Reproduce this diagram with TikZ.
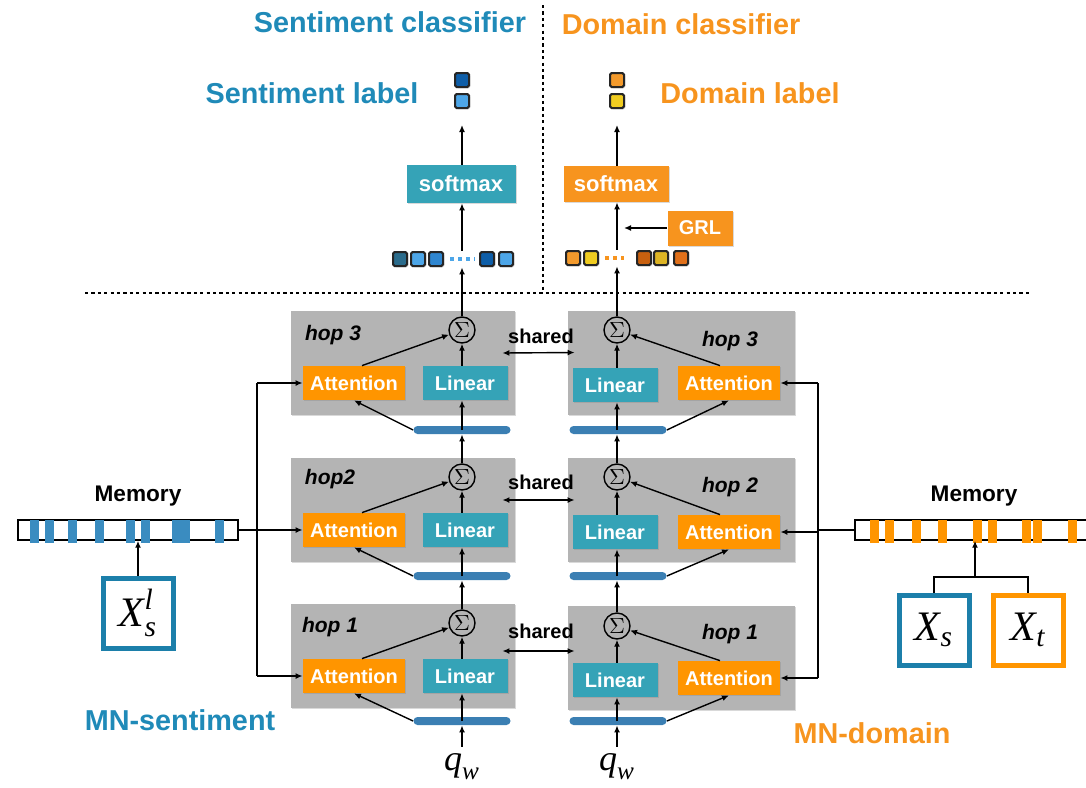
\documentclass[tikz,border=0pt]{standalone}
\usepackage{amsmath}
\usepackage{fontspec}
\setsansfont{Liberation Sans}
\newfontfamily\timesf{Liberation Serif}
\newcommand{\tvar}[1]{\text{\timesf\itshape #1}}
\usetikzlibrary{arrows.meta,shadows}
\definecolor{sentblue}{HTML}{1F8AB8}
\definecolor{domorange}{HTML}{F7941E}
\definecolor{linteal}{HTML}{35A3B7}
\definecolor{attorange}{HTML}{FF9500}
\definecolor{hopgray}{HTML}{B4B4B4}
\definecolor{barblue}{HTML}{3B7FB3}
\definecolor{memblue}{HTML}{3A8CC0}
\definecolor{xblue}{HTML}{1C7FAA}
\definecolor{sdark}{HTML}{0E5EA8}
\definecolor{slight}{HTML}{4DA6E8}
\definecolor{smid}{HTML}{2F86D0}
\definecolor{steal}{HTML}{2B6C8C}
\definecolor{dorange}{HTML}{F39A2C}
\definecolor{dyellow}{HTML}{F0CC20}
\definecolor{dbrown}{HTML}{C8600F}
\definecolor{dolive}{HTML}{DDB424}
\definecolor{dred}{HTML}{E0701A}
\begin{document}
\begin{tikzpicture}[x=0.5pt,y=-0.5pt,
	>={Latex[length=3.5pt,width=3pt]},
	every node/.style={font=\sffamily\bfseries},
	conn/.style={line width=0.7pt},
	sepline/.style={line width=0.9pt,dash pattern=on 1.6pt off 1.6pt},
	shadowed/.style={drop shadow={opacity=0.3,shadow xshift=0.7pt,shadow yshift=-0.7pt}},
	bigblue/.style={text=sentblue,font=\sffamily\bfseries\fontsize{14.4}{17}\selectfont},
	bigorange/.style={text=domorange,font=\sffamily\bfseries\fontsize{14.4}{17}\selectfont},
	hopbox/.style={rectangle,fill=hopgray,minimum width=112pt,minimum height=52pt,inner sep=0pt,shadowed},
	hoptext/.style={font=\sffamily\bfseries\itshape\fontsize{10.5}{12}\selectfont},
	attbox/.style={rectangle,fill=attorange,text=white,minimum width=51pt,minimum height=17pt,inner sep=0pt,shadowed,font=\sffamily\bfseries\fontsize{10}{12}\selectfont},
	linbox/.style={rectangle,fill=linteal,text=white,minimum width=42.5pt,minimum height=17pt,inner sep=0pt,shadowed,font=\sffamily\bfseries\fontsize{10}{12}\selectfont},
	sumnode/.style={circle,draw,line width=0.7pt,minimum size=13pt,inner sep=0pt,font=\fontsize{11}{12}\selectfont},
	qbar/.style={rectangle,rounded corners=2pt,fill=barblue,minimum width=48.5pt,minimum height=4pt,inner sep=0pt},
	sharedtext/.style={font=\sffamily\bfseries\fontsize{10}{12}\selectfont},
	lsq/.style={rectangle,draw=black!85,line width=1pt,rounded corners=0.8pt,minimum size=7pt,inner sep=0pt,shadowed},
	memtext/.style={font=\sffamily\bfseries\fontsize{11.3}{13}\selectfont},
	mem/.style={rectangle,draw=black,line width=0.7pt,fill=white,minimum width=110pt,minimum height=10pt,inner sep=0pt},
	xbox/.style={rectangle,line width=2.5pt,fill=white,minimum size=35pt,inner sep=0pt,shadowed,font=\fontsize{21}{24}\selectfont},
	qtext/.style={font=\fontsize{18}{20}\selectfont}]
	\useasboundingbox (0,0) rectangle (1086,787);
	%
	\node[bigblue] (tsent) at (390,22) {Sentiment classifier};
	\node[bigorange] (tdom) at (681,24) {Domain classifier};
	\node[bigblue] (lsent) at (312,93) {Sentiment label};
	\node[bigorange] (ldom) at (750,93) {Domain label};
	\coordinate (dt) at (543,5);
	\coordinate (db) at (543,290);
	\coordinate (dl) at (85,293);
	\coordinate (dr) at (1030,293);
	\draw[sepline] (dt) -- (db);
	\draw[sepline] (dl) -- (dr);
	%
	\node[lsq,fill=sdark] (lab1l) at (462,80) {};
	\node[lsq,fill=slight] (lab2l) at (462,101) {};
	\node[lsq,fill=dorange] (lab1r) at (617,80) {};
	\node[lsq,fill=dyellow] (lab2r) at (617,101) {};
	%
	\node[rectangle,fill=linteal,text=white,minimum width=54.5pt,minimum height=19pt,inner sep=0pt,shadowed,font=\sffamily\bfseries\fontsize{11}{13}\selectfont] (softl) at (461,184) {softmax};
	\node[rectangle,fill=domorange,text=white,minimum width=52.5pt,minimum height=18pt,inner sep=0pt,shadowed,font=\sffamily\bfseries\fontsize{11}{13}\selectfont] (softr) at (616,184) {softmax};
	\node[rectangle,fill=domorange,text=white,minimum width=32.5pt,minimum height=17.5pt,inner sep=0pt,shadowed,font=\sffamily\bfseries\fontsize{10}{12}\selectfont] (grl) at (700,228) {GRL};
	\coordinate (grlin) at (624,228);
	%
	\node[lsq,fill=steal] (v1l) at (400,259) {};
	\node[lsq,fill=slight] (v2l) at (418,259) {};
	\node[lsq,fill=smid] (v3l) at (436,259) {};
	\node[lsq,fill=sdark] (v4l) at (487,259) {};
	\node[lsq,fill=slight] (v5l) at (506,259) {};
	\node[minimum width=61pt,minimum height=8pt,inner sep=0pt] (vecl) at (454,259) {};
	\draw[slight,line width=1.6pt,dash pattern=on 2pt off 2pt,shorten <=3pt,shorten >=2pt] (v3l.east) -- (v4l.west);
	%
	\node[lsq,fill=dorange] (v1r) at (573,258) {};
	\node[lsq,fill=dyellow] (v2r) at (591,258) {};
	\node[lsq,fill=dbrown] (v3r) at (644,258) {};
	\node[lsq,fill=dolive] (v4r) at (661,258) {};
	\node[lsq,fill=dred] (v5r) at (681,258) {};
	\node[minimum width=62pt,minimum height=8pt,inner sep=0pt] (vecr) at (627,258) {};
	\draw[domorange,line width=1.6pt,dash pattern=on 2pt off 2pt,shorten <=3pt,shorten >=6pt] (v2r.east) -- (v3r.west);
	%
	\node[hopbox] (h3l) at (403,363) {};
	\node[hopbox] (h2l) at (403,509.5) {};
	\node[hopbox] (h1l) at (403,656) {};
	\node[hopbox,minimum width=113.5pt] (h3r) at (681.5,362.5) {};
	\node[hopbox,minimum width=113.5pt] (h2r) at (681.5,510) {};
	\node[hopbox,minimum width=113.5pt] (h1r) at (681.5,657.5) {};
	%
	\node[hoptext] (t3l) at (333,335) {hop 3};
	\node[sumnode] (s3l) at (462,330) {$\Sigma$};
	\node[attbox] (att3l) at (354,383) {Attention};
	\node[linbox] (lin3l) at (465,383) {Linear};
	\node[qbar] (b3l) at (462,430) {};
	\draw[conn,->] ([xshift=4pt]att3l.north) -- (s3l);
	\draw[conn,->] (s3l |- lin3l.north) -- (s3l);
	\draw[conn,->] (b3l.west) -- (att3l.south);
	\draw[conn,->] (b3l.center) -- (s3l |- lin3l.south);
	%
	\node[hoptext] (t2l) at (330,479) {hop2};
	\node[sumnode] (s2l) at (462,477) {$\Sigma$};
	\node[attbox] (att2l) at (354,530) {Attention};
	\node[linbox] (lin2l) at (465,530) {Linear};
	\node[qbar] (b2l) at (462,576) {};
	\draw[conn,->] ([xshift=4pt]att2l.north) -- (s2l);
	\draw[conn,->] (s2l |- lin2l.north) -- (s2l);
	\draw[conn,->] (b2l.west) -- (att2l.south);
	\draw[conn,->] (b2l.center) -- (s2l |- lin2l.south);
	\draw[conn,->] (s2l) -- (s2l |- b3l.south);
	%
	\node[hoptext] (t1l) at (330,627) {hop 1};
	\node[sumnode] (s1l) at (462,623) {$\Sigma$};
	\node[attbox] (att1l) at (354,676) {Attention};
	\node[linbox] (lin1l) at (465,676) {Linear};
	\node[qbar] (b1l) at (462,721) {};
	\draw[conn,->] ([xshift=4pt]att1l.north) -- (s1l);
	\draw[conn,->] (s1l |- lin1l.north) -- (s1l);
	\draw[conn,->] (b1l.west) -- (att1l.south);
	\draw[conn,->] (b1l.center) -- (s1l |- lin1l.south);
	\draw[conn,->] (s1l) -- (s1l |- b2l.south);
	\node[qtext] (ql) at (462,767) {$\tvar{q}_{\tvar{w}}$};
	\draw[conn,->] (ql) -- (b1l.south);
	%
	\node[hoptext] (t3r) at (730,341) {hop 3};
	\node[sumnode] (s3r) at (617,330) {$\Sigma$};
	\node[linbox] (lin3r) at (615,385) {Linear};
	\node[attbox] (att3r) at (729,383) {Attention};
	\node[qbar] (b3r) at (618,430) {};
	\draw[conn,->] ([xshift=-4.5pt]att3r.north) -- (s3r);
	\draw[conn,->] (s3r |- lin3r.north) -- (s3r);
	\draw[conn,->] (b3r.east) -- (att3r.south);
	\draw[conn,->] (s3r |- b3r.center) -- (s3r |- lin3r.south);
	%
	\node[hoptext] (t2r) at (730,487) {hop 2};
	\node[sumnode] (s2r) at (617,477) {$\Sigma$};
	\node[linbox] (lin2r) at (615,532) {Linear};
	\node[attbox] (att2r) at (729,532) {Attention};
	\node[qbar] (b2r) at (618,576) {};
	\draw[conn,->] ([xshift=-4.5pt]att2r.north) -- (s2r);
	\draw[conn,->] (s2r |- lin2r.north) -- (s2r);
	\draw[conn,->] (b2r.east) -- (att2r.south);
	\draw[conn,->] (s2r |- b2r.center) -- (s2r |- lin2r.south);
	\draw[conn,->] (s2r) -- (s2r |- b3r.south);
	%
	\node[hoptext] (t1r) at (730,634) {hop 1};
	\node[sumnode] (s1r) at (617,626) {$\Sigma$};
	\node[linbox] (lin1r) at (615,680) {Linear};
	\node[attbox] (att1r) at (729,678) {Attention};
	\node[qbar] (b1r) at (618,721) {};
	\draw[conn,->] ([xshift=-4.5pt]att1r.north) -- (s1r);
	\draw[conn,->] (s1r |- lin1r.north) -- (s1r);
	\draw[conn,->] (b1r.east) -- (att1r.south);
	\draw[conn,->] (s1r |- b1r.center) -- (s1r |- lin1r.south);
	\draw[conn,->] (s1r) -- (s1r |- b2r.south);
	\node[qtext] (qr) at (617,767) {$\tvar{q}_{\tvar{w}}$};
	\draw[conn,->] (qr) -- (s1r |- b1r.south);
	%
	\node[sharedtext] (sh3) at (541,336) {shared};
	\node[sharedtext] (sh2) at (541,482) {shared};
	\node[sharedtext] (sh1) at (541,631) {shared};
	\draw[conn,<->] ([xshift=-6.5pt,yshift=5pt]h3l.east) -- ([xshift=3.5pt,yshift=5pt]h3r.west);
	\draw[conn,<->] ([xshift=-6.5pt,yshift=4.75pt]h2l.east) -- ([xshift=3.5pt,yshift=5pt]h2r.west);
	\draw[conn,<->] ([xshift=-6.5pt,yshift=2.5pt]h1l.east) -- ([xshift=3.5pt,yshift=3.25pt]h1r.west);
	%
	\draw[conn,->] (s3l) -- (s3l |- vecl.south);
	\draw[conn,->] (s3l |- vecl.north) -- (s3l |- softl.south);
	\draw[conn,->,shorten >=8pt] (s3l |- softl.north) -- (lab2l);
	\draw[conn,->] (s3r) -- (s3r |- vecr.south);
	\draw[conn,->] (s3r |- vecr.north) -- (s3r |- softr.south);
	\draw[conn,->] (grl) -- (grlin);
	\draw[conn,->,shorten >=8pt] (s3r |- softr.north) -- (lab2r);
	%
	\node[memtext] (mtl) at (138,496) {Memory};
	\node[mem] (meml) at (128,530) {};
	\foreach \m in {30,45,68,95,126,141,172,181,215}
		\fill[memblue] (\m,520) rectangle ++(9,23);
	\node[xbox,draw=xblue] (xsl) at (138,613) {$\tvar{X}_{\tvar{s}}^{\tvar{l}}$};
	\draw[conn,->] (xsl) -- (xsl |- meml.south);
	\coordinate (busl) at (257,530);
	\draw[conn] (meml) -- (busl);
	\draw[conn] (busl |- att3l) -- (busl |- att1l);
	\draw[conn,->] (busl |- att3l) -- (att3l);
	\draw[conn,->] (busl) -- (att2l);
	\draw[conn,->] (busl |- att1l) -- (att1l);
	%
	\node[memtext] (mtr) at (974,496) {Memory};
	\node[mem,minimum width=118.5pt] (memr) at (973.5,530) {};
	\foreach \m in {870,885,912,938,973,988,1022,1033,1068}
		\fill[attorange] (\m,520) rectangle ++(9,23);
	\node[xbox,draw=xblue] (xs) at (934,630) {$\tvar{X}_{\tvar{s}}$};
	\node[xbox,draw=attorange] (xt) at (1028,630) {$\tvar{X}_{\tvar{t}}$};
	\coordinate (brk) at (975,577);
	\draw[conn] (xs.north) |- (brk) -| (xt.north);
	\draw[conn,->] (brk) -- (brk |- memr.south);
	\coordinate (busr) at (818,530);
	\draw[conn] (memr) -- (busr);
	\draw[conn] (busr |- att3r) -- (busr |- att1r);
	\draw[conn,->] (busr |- att3r) -- (att3r);
	\draw[conn,->] (busr |- att2r) -- (att2r);
	\draw[conn,->] (busr |- att1r) -- (att1r);
	%
	\node[bigblue] (mns) at (180,720) {MN-sentiment};
	\node[bigorange] (mnd) at (872,733) {MN-domain};
\end{tikzpicture}
\end{document}
